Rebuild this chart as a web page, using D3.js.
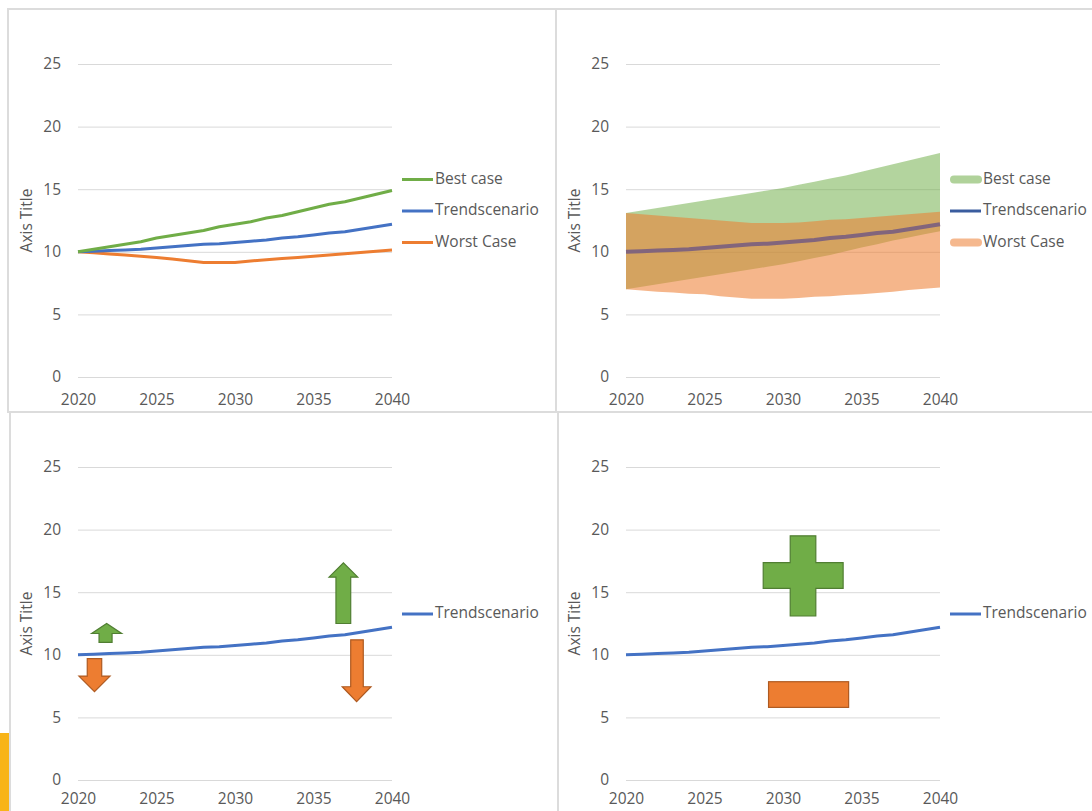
<!DOCTYPE html>
<html>
<head>
<meta charset="utf-8">
<script src="https://cdn.jsdelivr.net/npm/d3@7"></script>
<style>
  body { margin: 0; background: #fff; }
  svg { display: block; font-family: "Open Sans", sans-serif; }
  .tick text, .legend text, .axis-title { fill: #595959; font-size: 15.5px; }
</style>
</head>
<body>
<svg id="chart" width="1092" height="811"></svg>
<script>
const years = d3.range(2020, 2041);
const xTicks = [2020, 2025, 2030, 2035, 2040];
const yTicks = [0, 5, 10, 15, 20, 25];

const bestCase = [10.0, 10.2, 10.4, 10.6, 10.8, 11.1, 11.3, 11.5, 11.7, 12.0, 12.2,
  12.4, 12.7, 12.9, 13.2, 13.5, 13.8, 14.0, 14.3, 14.6, 14.9];
const trend = [10.0, 10.05, 10.1, 10.15, 10.2, 10.3, 10.4, 10.5, 10.6, 10.65, 10.75,
  10.85, 10.95, 11.1, 11.2, 11.35, 11.5, 11.6, 11.8, 12.0, 12.2];
const worstCase = [10.0, 9.92, 9.83, 9.74, 9.65, 9.55, 9.42, 9.28, 9.15, 9.14, 9.15,
  9.27, 9.37, 9.46, 9.55, 9.65, 9.75, 9.85, 9.95, 10.05, 10.15];

const bestUpper = [13.1, 13.3, 13.5, 13.7, 13.9, 14.1, 14.3, 14.5, 14.7, 14.9, 15.1,
  15.35, 15.6, 15.85, 16.1, 16.4, 16.7, 17.0, 17.3, 17.6, 17.9];
const bestLower = [7.0, 7.2, 7.4, 7.6, 7.8, 8.0, 8.2, 8.4, 8.6, 8.8, 9.0,
  9.25, 9.5, 9.75, 10.05, 10.35, 10.6, 10.9, 11.15, 11.4, 11.65];
const worstUpper = [13.1, 13.0, 12.9, 12.8, 12.7, 12.6, 12.5, 12.4, 12.3, 12.3, 12.3,
  12.35, 12.45, 12.55, 12.6, 12.7, 12.8, 12.9, 13.0, 13.1, 13.2];
const worstLower = [7.0, 6.9, 6.8, 6.75, 6.65, 6.6, 6.45, 6.35, 6.25, 6.25, 6.25,
  6.3, 6.4, 6.45, 6.55, 6.6, 6.7, 6.8, 6.95, 7.05, 7.15];

// block arrows of panel 3, in chart units (year, value)
const arrowDir = ["up", "down", "up", "down"];
const arrowShaftX = [[2021.34, 2022.17], [2020.59, 2021.51], [2036.43, 2037.37], [2037.37, 2038.17]];
const arrowHeadX = [[2020.87, 2022.78], [2020.06, 2022.04], [2035.99, 2037.82], [2036.83, 2038.66]];
const arrowTail = [11.0, 9.7, 12.5, 11.2];
const arrowHeadBase = [11.7, 8.3, 16.2, 7.45];
const arrowTip = [12.5, 7.05, 17.35, 6.25];

// plus and minus of panel 4, in chart units
const plusX = [2028.74, 2030.46, 2032.09, 2033.83];
const plusY = [19.5, 17.36, 15.3, 13.1];
const minusX = [2029.08, 2034.18];
const minusY = [7.85, 5.8];

const colors = { best: "#70ad47", trend: "#4472c4", worst: "#ed7d31" };

const svg = d3.select("#chart");

// panel frames
const frames = [[8, 9, 556, 412], [556, 9, 1100, 412], [10, 412, 558, 830], [558, 412, 1100, 830]];
svg.append("g").selectAll("rect")
  .data(frames)
  .enter().append("rect")
  .attr("x", d => d[0]).attr("y", d => d[1])
  .attr("width", d => d[2] - d[0]).attr("height", d => d[3] - d[1])
  .attr("fill", "none").attr("stroke", "#dcdcdc").attr("stroke-width", 2);

svg.append("rect")
  .attr("x", 0).attr("y", 733).attr("width", 9).attr("height", 78)
  .attr("fill", "#f8b418");

function panel(left, top, labelPad) {
  const width = 314, height = 313;
  const g = svg.append("g").attr("transform", `translate(${left},${top})`);
  const x = d3.scaleLinear().domain([2020, 2040]).range([0, width]);
  const y = d3.scaleLinear().domain([0, 25]).range([height, 0]);

  g.append("g")
    .call(d3.axisLeft(y).tickValues(yTicks).tickSize(-width).tickPadding(17))
    .call(a => a.select(".domain").remove())
    .call(a => a.selectAll("line").attr("stroke", "#d9d9d9"));

  g.append("g")
    .attr("transform", `translate(0,${height})`)
    .call(d3.axisBottom(x).tickValues(xTicks).tickFormat(d3.format("d")).tickSize(0).tickPadding(labelPad))
    .call(a => a.select(".domain").remove());

  g.selectAll(".tick text").style("font-family", "Open Sans").style("font-size", "15.5px").attr("fill", "#595959");

  g.append("text")
    .attr("class", "axis-title")
    .attr("transform", `translate(-50,${height / 2}) rotate(-90)`)
    .attr("text-anchor", "middle")
    .attr("dominant-baseline", "middle")
    .text("Axis Title");

  return { g: g, x: x, y: y, width: width, height: height };
}

function legend(p, items) {
  const lg = p.g.append("g").attr("class", "legend");
  const y0 = 147 - (items.length - 1) * 31.5 / 2;
  items.forEach(function(it, i) {
    const yy = y0 + i * 31.5;
    if (it.band) {
      lg.append("line")
        .attr("x1", p.width + 14).attr("x2", p.width + 38).attr("y1", yy).attr("y2", yy)
        .attr("stroke", it.color).attr("stroke-opacity", 0.55)
        .attr("stroke-width", 8).attr("stroke-linecap", "round");
    } else {
      lg.append("line")
        .attr("x1", p.width + 10).attr("x2", p.width + 41).attr("y1", yy).attr("y2", yy)
        .attr("stroke", it.color).attr("stroke-width", 3);
    }
    lg.append("text")
      .attr("x", p.width + 43).attr("y", yy)
      .attr("dominant-baseline", "middle")
      .text(it.name);
  });
}

function series(vals) {
  return years.map((yr, i) => [yr, vals[i]]);
}

function drawLine(p, vals, color, w) {
  const line = d3.line().x(d => p.x(d[0])).y(d => p.y(d[1]));
  p.g.append("path")
    .attr("d", line(series(vals)))
    .attr("fill", "none")
    .attr("stroke", color)
    .attr("stroke-width", w)
    .attr("stroke-linejoin", "round");
}

function drawBand(p, lower, upper, color, opacity) {
  const area = d3.area()
    .x((d, i) => p.x(years[i]))
    .y0((d, i) => p.y(lower[i]))
    .y1((d, i) => p.y(upper[i]));
  p.g.append("path")
    .attr("d", area(years))
    .attr("fill", color)
    .attr("fill-opacity", opacity);
}

// panel 1
let p1 = panel(78, 64, 17);
drawLine(p1, worstCase, colors.worst, 3);
drawLine(p1, trend, colors.trend, 3);
drawLine(p1, bestCase, colors.best, 3);
legend(p1, [
  { name: "Best case", color: colors.best },
  { name: "Trendscenario", color: colors.trend },
  { name: "Worst Case", color: colors.worst }
]);

// panel 2
let p2 = panel(626, 64, 17);
drawBand(p2, bestLower, bestUpper, colors.best, 0.53);
drawBand(p2, worstLower, worstUpper, colors.worst, 0.56);
drawLine(p2, trend, "#82657c", 4);
legend(p2, [
  { name: "Best case", color: colors.best, band: true },
  { name: "Trendscenario", color: "#3a5c9e" },
  { name: "Worst Case", color: colors.worst, band: true }
]);

// panel 3
let p3 = panel(78, 467, 13);
drawLine(p3, trend, colors.trend, 3);
legend(p3, [{ name: "Trendscenario", color: colors.trend }]);

p3.g.append("g").selectAll("path")
  .data(arrowDir)
  .enter().append("path")
  .attr("d", function(dir, i) {
    const sx = arrowShaftX[i], hx = arrowHeadX[i];
    const tipX = (hx[0] + hx[1]) / 2;
    const pts = [
      [sx[0], arrowTail[i]], [sx[0], arrowHeadBase[i]], [hx[0], arrowHeadBase[i]],
      [tipX, arrowTip[i]],
      [hx[1], arrowHeadBase[i]], [sx[1], arrowHeadBase[i]], [sx[1], arrowTail[i]]
    ];
    return d3.line().x(d => p3.x(d[0])).y(d => p3.y(d[1]))(pts) + "Z";
  })
  .attr("fill", d => d == "up" ? colors.best : colors.worst)
  .attr("stroke", d => d == "up" ? "#507e32" : "#ae5a21")
  .attr("stroke-width", 1.2);

// panel 4
let p4 = panel(626, 467, 13);
drawLine(p4, trend, colors.trend, 3);
legend(p4, [{ name: "Trendscenario", color: colors.trend }]);

const plusPts = [
  [plusX[1], plusY[0]], [plusX[2], plusY[0]], [plusX[2], plusY[1]], [plusX[3], plusY[1]],
  [plusX[3], plusY[2]], [plusX[2], plusY[2]], [plusX[2], plusY[3]], [plusX[1], plusY[3]],
  [plusX[1], plusY[2]], [plusX[0], plusY[2]], [plusX[0], plusY[1]], [plusX[1], plusY[1]]
];
p4.g.append("path")
  .attr("d", d3.line().x(d => p4.x(d[0])).y(d => p4.y(d[1]))(plusPts) + "Z")
  .attr("fill", colors.best).attr("stroke", "#507e32").attr("stroke-width", 1.2);

p4.g.append("rect")
  .attr("x", p4.x(minusX[0])).attr("y", p4.y(minusY[0]))
  .attr("width", p4.x(minusX[1]) - p4.x(minusX[0]))
  .attr("height", p4.y(minusY[1]) - p4.y(minusY[0]))
  .attr("fill", colors.worst).attr("stroke", "#ae5a21").attr("stroke-width", 1.2);
</script>
</body>
</html>
